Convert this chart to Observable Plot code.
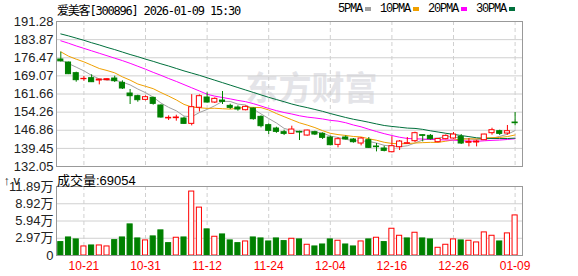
<!DOCTYPE html>
<html><head><meta charset="utf-8">
<script src="https://cdn.jsdelivr.net/npm/d3@7"></script>
<script src="https://cdn.jsdelivr.net/npm/@observablehq/plot@0.6"></script>
<style>
html,body{margin:0;padding:0;background:#fff;}
#wrap{position:relative;width:578px;height:276px;overflow:hidden;background:#fff;}
#price,#vol{position:absolute;left:0;}
#price{top:0}
#vol{top:172px}
.t{position:absolute;white-space:nowrap;color:#000;line-height:14px;}
#legend{position:absolute;left:338px;top:2px;display:flex;align-items:center;font:12px 'Liberation Mono',monospace;letter-spacing:-1.2px;line-height:14px;}
#legend .sw{display:inline-block;width:6px;height:4px;margin-left:3px;margin-right:9px;}
</style></head><body>
<div id="wrap">
  <div id="price"></div>
  <div id="vol"></div>
  <div class="t" style="left:57px;top:1px;font:12px 'DejaVu Sans Mono','Noto Sans CJK SC',monospace;letter-spacing:-1.2px;">爱美客[300896] 2026-01-09 15:30</div>
  <div id="legend"></div>
  <div class="t" id="vlabel" style="left:57px;top:170px;font:13px 'Liberation Sans','Noto Sans CJK SC',sans-serif;"></div>
</div>
<script>
const dates = ["10-16","10-17","10-20","10-21","10-22","10-23","10-24","10-27","10-28","10-29",
"10-30","10-31","11-03","11-04","11-05","11-06","11-07","11-10","11-11","11-12",
"11-13","11-14","11-17","11-18","11-19","11-20","11-21","11-24","11-25","11-26",
"11-27","11-28","12-01","12-02","12-03","12-04","12-05","12-08","12-09","12-10",
"12-11","12-12","12-15","12-16","12-17","12-18","12-19","12-22","12-23","12-24",
"12-25","12-26","12-29","12-30","12-31","01-05","01-06","01-07","01-08","01-09"];
const open = [175.76,174.53,170.17,167.72,168.13,167.17,167.31,167.99,166.22,161.86,
160.77,159.28,160.09,156.96,151.70,151.80,151.65,149.47,156.04,160.23,
158.18,158.99,156.82,156.14,155.05,155.73,152.33,148.93,147.56,146.06,
145.38,146.20,144.70,146.06,145.38,143.89,140.89,143.90,143.07,141.44,
142.80,140.21,139.40,137.89,139.93,141.30,142.39,144.84,144.57,141.98,
143.21,143.48,144.16,141.71,141.85,142.80,145.66,146.47,145.52,150.01];
const high = [178.75,174.67,170.58,168.81,169.49,167.65,168.00,168.95,167.04,163.50,
161.18,160.91,160.36,157.23,152.74,153.01,152.19,161.40,161.30,162.13,
160.09,162.68,157.50,156.82,156.82,156.00,152.74,149.47,148.10,146.88,
148.52,146.47,146.88,146.47,145.79,144.43,143.75,144.57,143.48,143.89,
143.89,141.44,140.35,144.16,142.66,143.89,146.06,144.98,145.11,143.48,
144.98,145.93,145.11,143.48,142.80,145.20,147.69,146.88,148.80,154.10];
const low = [174.70,169.60,166.49,166.90,166.35,165.40,167.04,166.36,163.50,157.37,
158.32,158.87,157.10,151.80,150.83,150.56,149.20,148.65,154.30,157.91,
157.78,157.37,155.33,154.65,154.78,150.97,147.83,145.11,145.60,144.70,
145.24,142.66,144.43,144.70,143.07,140.48,139.67,142.90,141.57,140.48,
139.40,138.03,138.03,137.62,138.57,141.03,141.85,142.12,142.80,141.75,
142.93,143.21,141.03,140.07,140.07,142.66,144.84,144.70,144.84,148.65];
const close = [175.00,169.76,167.31,167.85,166.49,167.58,167.72,166.90,163.91,160.77,
159.14,160.36,157.64,152.06,151.92,152.06,149.47,156.28,160.77,158.18,
159.68,158.46,156.00,155.33,156.41,151.38,148.52,146.61,146.20,145.38,
147.15,145.93,146.74,145.11,143.75,140.76,143.20,143.10,141.98,143.48,
139.67,139.94,138.44,140.35,142.25,141.57,145.66,144.57,143.20,143.30,
144.57,145.11,141.44,142.12,142.25,145.11,146.88,145.38,146.47,149.74];
const volume = [23100,31100,27700,15600,17300,17300,15600,26500,31100,53600,
29400,26000,32900,43300,21300,30600,31100,110200,82500,45000,
32300,36300,26000,21300,24200,31100,29400,24200,29400,24800,
28800,27700,18500,15600,19000,27700,25400,19000,15600,24200,
27700,30600,23100,46100,34000,29400,39200,29400,27700,13300,
18500,27700,26000,25400,22500,39800,34000,24200,38100,69054];
const ma5 = [175.48,174.12,172.62,171.12,169.28,167.80,167.39,167.31,166.52,165.38,
163.69,162.22,160.36,157.99,156.22,154.81,152.63,152.36,154.10,155.35,
156.88,158.67,158.62,157.53,157.18,155.52,153.53,151.65,149.82,147.62,
146.77,146.25,146.28,146.06,145.74,144.46,143.91,143.18,142.56,142.50,
142.29,141.63,140.70,140.38,140.13,140.51,141.65,142.88,143.45,143.66,
144.26,144.15,143.52,143.31,143.10,143.21,143.56,144.35,145.22,146.72];
const ma10 = [178.89,177.12,175.89,174.80,173.44,172.08,171.26,170.31,168.67,167.33,
165.74,164.80,163.84,162.26,160.80,159.25,157.42,156.36,156.05,155.79,
155.84,155.65,155.49,155.82,156.26,156.20,156.10,155.13,153.68,152.40,
151.14,149.89,148.97,147.94,146.68,145.62,145.08,144.73,144.31,144.12,
143.37,142.77,141.94,141.47,141.32,141.40,141.64,141.79,141.91,141.90,
142.39,142.91,143.19,143.35,143.34,143.70,143.82,143.90,144.27,144.93];
const ma20 = [183.4,182.4,181.3,180.3,179.3,178.3,177.3,176.3,175.3,174.2,
173.0,171.8,170.5,169.3,168.0,166.8,165.5,164.2,162.9,161.56,
160.79,160.23,159.67,159.04,158.53,157.73,156.76,155.75,154.87,154.10,
153.49,152.77,152.23,151.88,151.47,150.91,150.59,149.93,149.00,148.26,
147.26,146.33,145.46,144.71,144.00,143.51,143.36,143.26,143.11,143.00,
142.87,142.84,142.57,142.42,142.33,142.55,142.73,142.85,143.08,143.40];
const ma30 = [186.2,185.4,184.5,183.6,182.6,181.7,180.7,179.8,178.8,177.8,
176.9,175.9,175.0,174.0,173.1,172.1,171.1,170.2,169.3,168.3,
167.3,166.3,165.3,164.3,163.3,162.3,161.3,160.3,159.4,158.51,
157.57,156.78,156.10,155.34,154.58,153.69,152.87,152.07,151.35,150.77,
150.12,149.44,148.80,148.41,148.09,147.74,147.61,147.22,146.63,146.13,
145.62,145.18,144.69,144.25,143.78,143.57,143.51,143.47,143.48,143.63];
const priceTicks = [132.05,139.45,146.86,154.26,161.66,169.07,176.47,183.87,191.28];
const volTicks = [0,29725,59450,89175,118900];
const volTickLabels = ["0","2.97万","5.94万","8.92万","11.89万"];
const dateTicks = ["10-21","10-31","11-12","11-24","12-04","12-16","12-26","01-09"];
const maNames = ["5PMA","10PMA","20PMA","30PMA"];
const maColors = ["#a0a0a0","#f0a000","#ff00ff","#00703c"];
const maSeries = [ma5, ma10, ma20, ma30];
const lastVolLabel = "成交量:" + volume[volume.length-1];

const RED = "#ff0000", GREEN = "#008000";
const bars = dates.map((d,i)=>({i, o:open[i], h:high[i], l:low[i], c:close[i], v:volume[i],
  up: close[i] >= open[i],
  vup: i === 0 ? close[i] >= open[i] : close[i] >= close[i-1]}));
const tickIdx = dateTicks.map(t => dates.indexOf(t));
const xDomain = [-0.56, 59.96];
const gridStyle = {stroke:"#d0d0d0", strokeOpacity:1};
const vgridStyle = {stroke:"#d0d0d0", strokeOpacity:1, strokeDasharray:"4,3"};

const maMarks = maSeries.map((s,k) => Plot.line(s, {x:(d,i)=>i, y:d=>d, stroke:maColors[k], strokeWidth:1}));

const price = Plot.plot({
  width:578, height:172, marginLeft:56, marginRight:56, marginTop:21, marginBottom:6,
  style:{background:"transparent", overflow:"visible", fontFamily:"Liberation Sans", fontSize:"13px"},
  x:{type:"linear", domain:xDomain, axis:null},
  y:{domain:[132.05,191.28], axis:null},
  marks:[
    Plot.text(["东方财富"], {text:d=>d, frameAnchor:"middle", dx:22, dy:-5, fontSize:33, fontWeight:"bold", fill:"#e4e4e8", fontFamily:"Noto Sans CJK SC"}),
    Plot.gridY(priceTicks, gridStyle),
    Plot.gridX(tickIdx, vgridStyle),
    Plot.axisY(priceTicks, {tickSize:0, tickPadding:3, tickFormat:d=>d.toFixed(2), fontSize:13, fill:"#222"}),
    ...maMarks,
    Plot.ruleX(bars, {x:"i", y1:"l", y2:"h", stroke:d=>d.up?RED:GREEN, strokeWidth:1}),
    Plot.rect(bars, {x1:d=>d.i-0.5, x2:d=>d.i+0.5, y1:"o", y2:"c", insetLeft:1.3, insetRight:1.3,
      fill:d=>d.up?"#ffffff":GREEN, stroke:d=>d.up?RED:GREEN, strokeWidth:1}),
    Plot.frame({stroke:"#999"})
  ]
});
document.getElementById("price").append(price);

const vol = Plot.plot({
  width:578, height:104, marginLeft:56, marginRight:56, marginTop:14, marginBottom:21,
  style:{background:"transparent", overflow:"visible", fontFamily:"Liberation Sans", fontSize:"13px"},
  x:{type:"linear", domain:xDomain, axis:null},
  y:{domain:[0,118900], axis:null},
  marks:[
    Plot.gridY(volTicks, gridStyle),
    Plot.gridX(tickIdx, vgridStyle),
    Plot.axisY(volTicks, {tickSize:0, tickPadding:3, tickFormat:d=>volTickLabels[volTicks.indexOf(d)], fontSize:13, fill:"#222", fontFamily:"Liberation Sans, Noto Sans CJK SC"}),
    Plot.axisX(tickIdx, {tickSize:0, tickPadding:6, tickFormat:i=>dates[i], fill:RED, fontSize:12}),
    Plot.rect(bars, {x1:d=>d.i-0.5, x2:d=>d.i+0.5, y1:0, y2:"v", insetLeft:1.3, insetRight:1.3,
      fill:d=>d.vup?"#ffffff":GREEN, stroke:d=>d.vup?RED:GREEN, strokeWidth:1}),
    Plot.frame({stroke:"#999"})
  ]
});
document.getElementById("vol").append(vol);

document.getElementById("vlabel").textContent = lastVolLabel;
const lg = document.getElementById("legend");
maNames.forEach((n,k)=>{
  const s = document.createElement("span"); s.textContent = n; lg.append(s);
  const w = document.createElement("span"); w.className = "sw"; w.style.background = maColors[k]; lg.append(w);
});
</script>
</body></html>
